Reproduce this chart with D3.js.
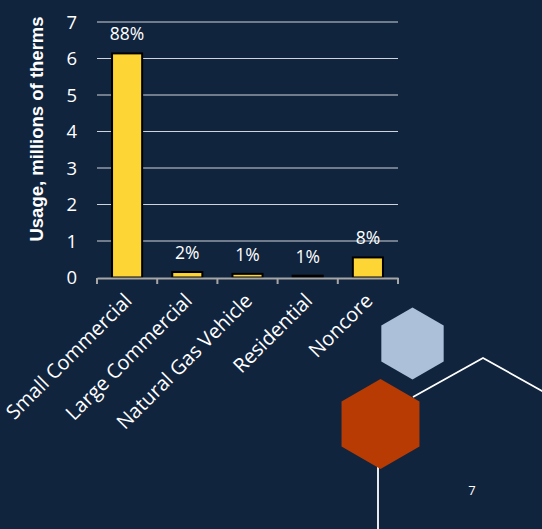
<!DOCTYPE html>
<html>
<head>
<meta charset="utf-8">
<script src="https://cdn.jsdelivr.net/npm/d3@7"></script>
<style>
  html, body { margin: 0; padding: 0; background: #11243e; }
  svg { display: block; }
</style>
</head>
<body>
<svg id="chart" width="542" height="529"></svg>
<script>
"use strict";

// chart values
const categories = ["Small Commercial", "Large Commercial", "Natural Gas Vehicle", "Residential", "Noncore"];
const usage = [6.14, 0.15, 0.10, 0.05, 0.55];
const shares = ["88%", "2%", "1%", "1%", "8%"];
const yTicks = [0, 1, 2, 3, 4, 5, 6, 7];

const svg = d3.select("#chart")
const bg = "#11243e"
const textFont = "'Open Sans', Lato, sans-serif"

svg.append("rect")
    .attr("width", 542)
    .attr("height", 529)
    .attr("fill", bg)

// Set the x axis
function getXaxis() {
    return d3.scaleBand()
        .domain(categories)
        .range([97, 398])
        .paddingInner(0.5)
        .paddingOuter(0.25)
}
// Set the y axis
function getYaxis() {
    return d3.scaleLinear()
        .domain([0, 7])
        .range([277.5, 22])
}

const x = getXaxis()
const y = getYaxis()

// gridlines
svg.append("g")
    .selectAll("line")
    .data(yTicks.filter(d => d > 0))
    .enter().append("line")
    .attr("x1", 97)
    .attr("x2", 398)
    .attr("y1", d => y(d))
    .attr("y2", d => y(d))
    .attr("stroke", "#d0d4da")
    .attr("stroke-width", 1.2)

// y tick labels
svg.append("g")
    .selectAll("text")
    .data(yTicks)
    .enter().append("text")
    .attr("x", 77)
    .attr("y", d => y(d))
    .attr("dy", "0.36em")
    .attr("text-anchor", "end")
    .attr("fill", "#ffffff")
    .style("font-family", textFont)
    .style("font-size", "18.5px")
    .text(d => d)

// axis title
svg.append("text")
    .attr("transform", "translate(43," + 129 + ") rotate(-90)")
    .attr("text-anchor", "middle")
    .attr("fill", "#ffffff")
    .style("font-family", "'Liberation Sans', Arial, sans-serif")
    .style("font-weight", "bold")
    .style("font-size", "18.5px")
    .text("Usage, millions of therms")

// bars
svg.append("g")
    .selectAll("rect")
    .data(categories)
    .enter().append("rect")
    .attr("x", d => x(d))
    .attr("width", x.bandwidth())
    .attr("y", (d, i) => y(usage[i]))
    .attr("height", (d, i) => y(0) - y(usage[i]))
    .attr("fill", "#fdd535")
    .attr("stroke", "#000000")
    .attr("stroke-width", 2)

// share labels
svg.append("g")
    .selectAll("text")
    .data(categories)
    .enter().append("text")
    .attr("x", d => x(d) + x.bandwidth() / 2)
    .attr("y", (d, i) => y(usage[i]) - 13)
    .attr("text-anchor", "middle")
    .attr("fill", "#ffffff")
    .style("font-family", textFont)
    .style("font-size", "17.5px")
    .text((d, i) => shares[i])

// x axis line with ticks between categories
const xAxis = svg.append("g")
    .attr("transform", "translate(0,278)")
    .call(d3.axisBottom(x).tickSize(0).tickFormat(""))
xAxis.select(".domain")
    .attr("stroke", "#a6a6a6")
    .attr("stroke-width", 2)
xAxis.selectAll(".tick").remove()
const step = x.step()
xAxis.selectAll(".sep")
    .data(d3.range(categories.length + 1))
    .enter().append("line")
    .attr("class", "sep")
    .attr("x1", i => x.range()[0] + i * step)
    .attr("x2", i => x.range()[0] + i * step)
    .attr("y1", 0)
    .attr("y2", 6)
    .attr("stroke", "#a6a6a6")
    .attr("stroke-width", 2)

// rotated category labels
svg.append("g")
    .selectAll("text")
    .data(categories)
    .enter().append("text")
    .attr("transform", d => "translate(" + (x(d) + x.bandwidth() / 2 + 6) + ",302) rotate(-45)")
    .attr("text-anchor", "end")
    .attr("fill", "#ffffff")
    .style("font-family", textFont)
    .style("font-size", "20px")
    .text(d => d)

// decoration: hexagons and connector lines
function hexPath(cx, cy, r) {
    let pts = d3.range(6).map(k => {
        let a = Math.PI / 180 * (60 * k - 90)
        return [cx + r * Math.cos(a), cy + r * Math.sin(a)]
    })
    return d3.line()(pts) + "Z"
}

svg.append("path")
    .attr("d", d3.line()([[413, 397], [483, 358], [560, 401]]))
    .attr("fill", "none")
    .attr("stroke", "#ffffff")
    .attr("stroke-width", 1.8)
svg.append("line")
    .attr("x1", 378).attr("x2", 378)
    .attr("y1", 466).attr("y2", 529)
    .attr("stroke", "#ffffff")
    .attr("stroke-width", 1.8)

svg.append("path")
    .attr("d", hexPath(412.5, 343.5, 36))
    .attr("fill", "#adc0da")
svg.append("path")
    .attr("d", hexPath(380.5, 424, 45))
    .attr("fill", "#b83b04")

// page number
svg.append("text")
    .attr("x", 472)
    .attr("y", 495)
    .attr("text-anchor", "middle")
    .attr("fill", "#ffffff")
    .style("font-family", textFont)
    .style("font-size", "13px")
    .text("7")
</script>
</body>
</html>
